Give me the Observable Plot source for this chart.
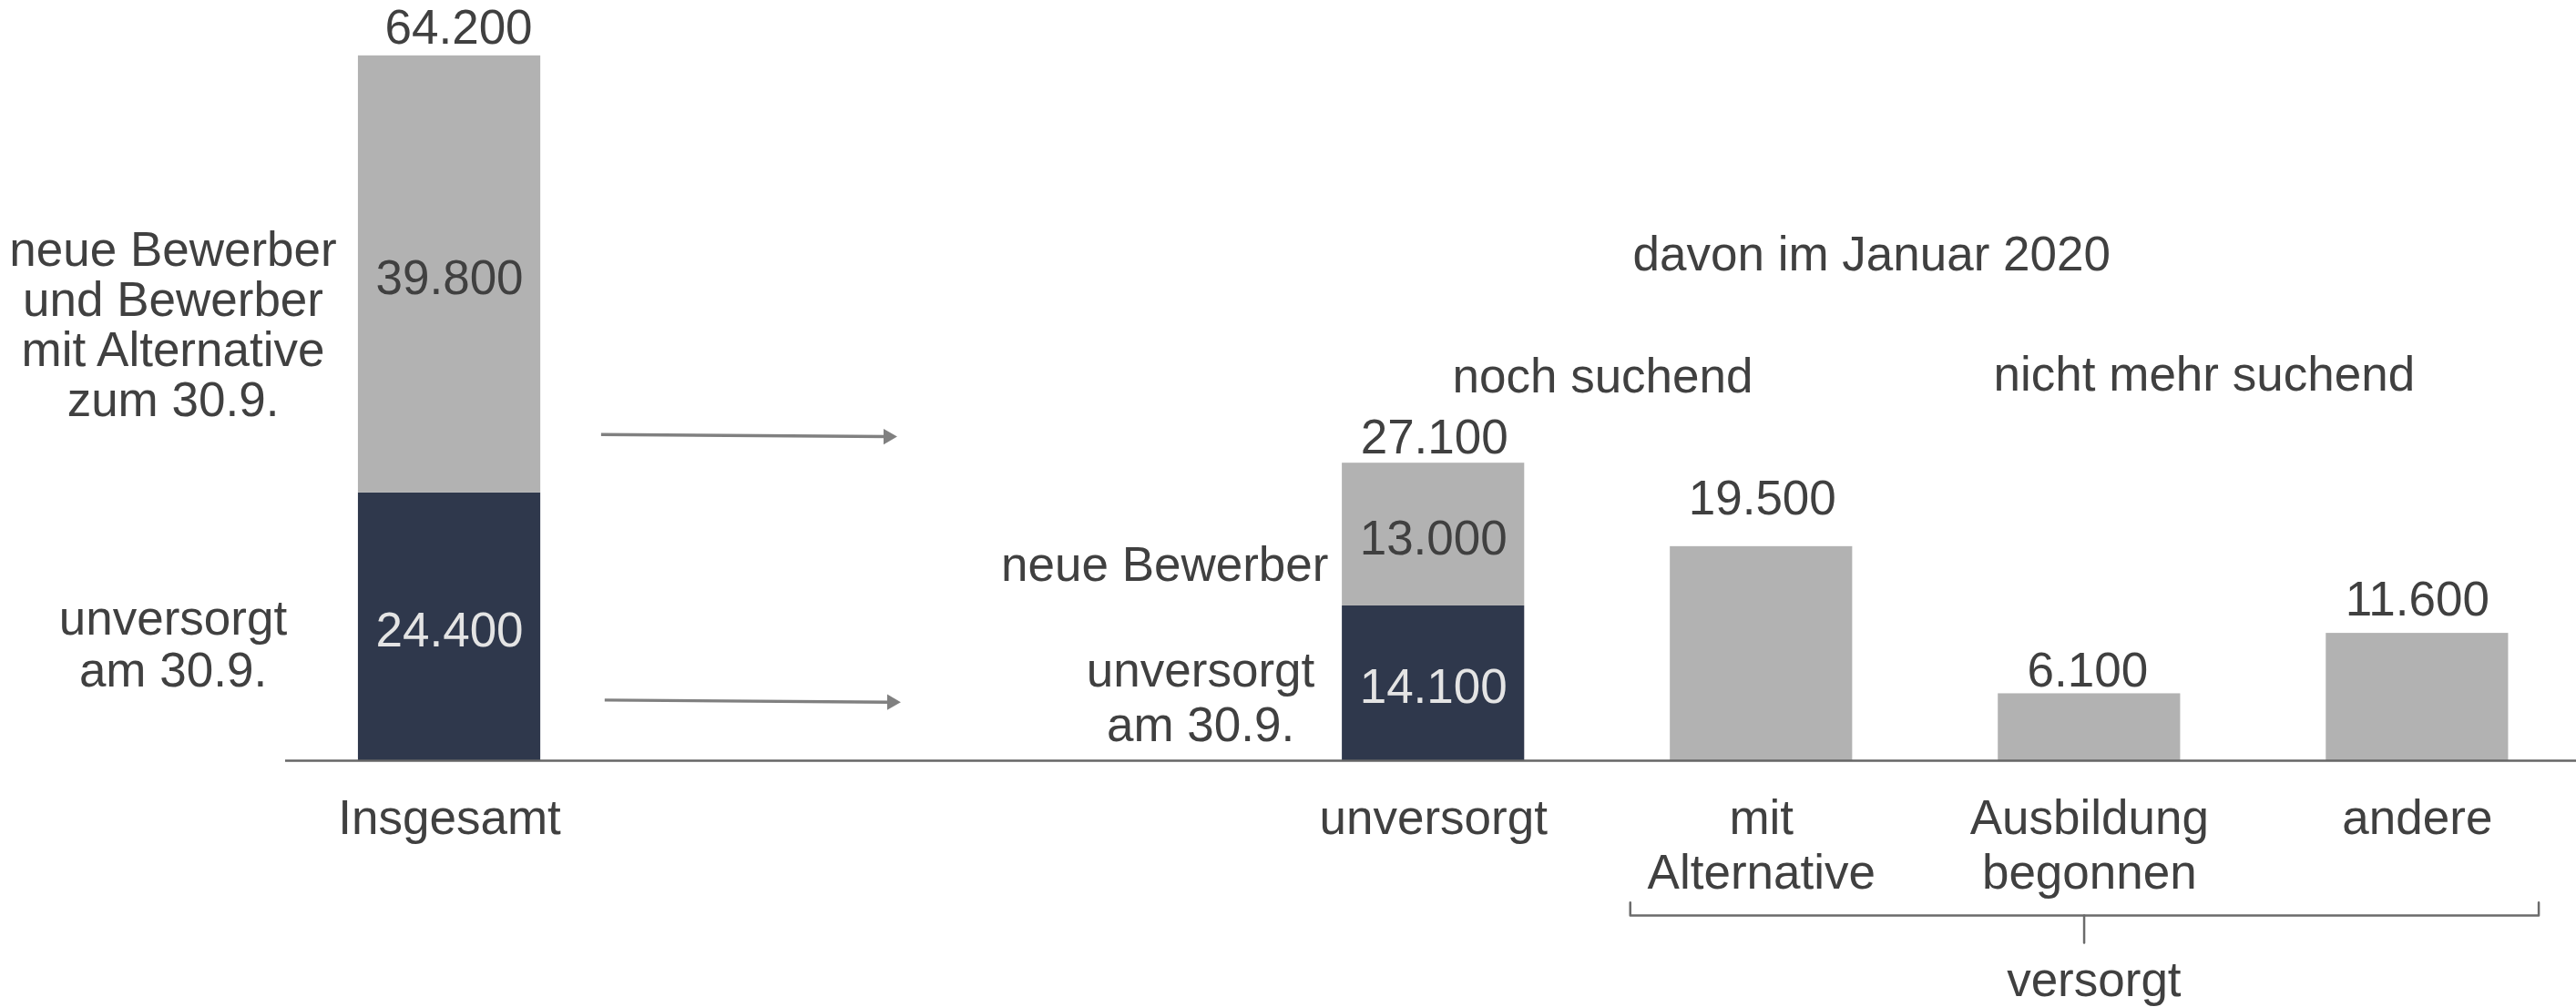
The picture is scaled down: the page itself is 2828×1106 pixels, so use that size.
<!DOCTYPE html>
<html>
<head>
<meta charset="utf-8">
<script src="https://cdn.jsdelivr.net/npm/d3@7"></script>
<script src="https://cdn.jsdelivr.net/npm/@observablehq/plot@0.6"></script>
<style>
  html, body { margin: 0; padding: 0; background: #ffffff; }
  #chart svg { display: block; }
</style>
</head>
<body>
<div id="chart"></div>
<script>
// ---------- data ----------
const categories = ["Insgesamt", "unversorgt", "mit\nAlternative", "Ausbildung\nbegonnen", "andere"];
const slots = [0, 3, 4, 5, 6];                       // ordinal position of each category (slots 1–2 are the gap)
const unversorgtAm309 = [24400, 14100, null, null, null];
const neueBewerber = [39800, 13000, null, null, null];
const totals = [64200, 27100, 19500, 6100, 11600];
const segmentNames = ["unversorgt am 30.9.", "neue Bewerber", "versorgt"];

// annotation texts and their anchors in data space (slot, value)
const noteTexts = [
  "neue Bewerber\nund Bewerber\nmit Alternative\nzum 30.9.",
  "unversorgt\nam 30.9.",
  "neue Bewerber",
  "unversorgt\nam 30.9.",
  "davon im Januar 2020",
  "noch suchend",
  "nicht mehr suchend",
  "versorgt"
];
const noteSlots = [-0.843, -0.843, 2.680, 2.290, 4.336, 3.516, 5.350, 5.014];
const noteValues = [31370, 6800, 16340, 1820, 44615, 33585, 33670, -21400];

// arrows (from → to) in data space
const arrowFrom = [[0.462, 29710], [0.473, 5530]];
const arrowTo = [[1.365, 29520], [1.376, 5330]];

// bracket under "versorgt" categories, in data space
const bracketSlots = [3.600, 3.600, 6.370, 6.370];
const bracketValues = [-12910, -14100, -14100, -12910];
const stemSlots = [4.984, 4.984];
const stemValues = [-14100, -16590];

// ---------- build ----------
const fmt = d3.formatLocale({decimal: ",", thousands: ".", grouping: [3], currency: ["", " €"]}).format(",d");

const barRows = [];
categories.forEach((c, i) => {
  if (unversorgtAm309[i] != null) {
    barRows.push({cat: c, slot: slots[i], segment: segmentNames[0], value: unversorgtAm309[i]});
    barRows.push({cat: c, slot: slots[i], segment: segmentNames[1], value: neueBewerber[i]});
  } else {
    barRows.push({cat: c, slot: slots[i], segment: segmentNames[2], value: totals[i]});
  }
});

const TXT = "#404040";
const FS = 53;
const FONT = "'Liberation Sans', Arial, Helvetica, sans-serif";
const half = 0.278;

// per-label offsets of the totals above the bars
const topDy = [-13, -11, -35, -8, -20];
const topDx = [10, 1, 1, -2, 0];
const topMarks = categories.map((c, i) =>
  Plot.text([totals[i]], {
    x: () => slots[i], y: d => d, text: d => fmt(d),
    lineAnchor: "bottom", dy: topDy[i], dx: topDx[i],
    fontSize: FS, fill: TXT, fontFamily: FONT
  })
);

const noteOpts = [
  {textAnchor: "middle", lineHeight: 1.038},
  {textAnchor: "middle", lineHeight: 1.057},
  {textAnchor: "end", lineHeight: 1.1},
  {textAnchor: "middle", lineHeight: 1.132},
  {textAnchor: "middle", lineHeight: 1.1},
  {textAnchor: "middle", lineHeight: 1.1},
  {textAnchor: "middle", lineHeight: 1.1},
  {textAnchor: "middle", lineHeight: 1.1}
];
const noteMarks = noteTexts.map((t, i) =>
  Plot.text([t], {
    x: () => noteSlots[i], y: () => noteValues[i], text: d => d,
    lineAnchor: "bottom", fontSize: FS, fill: TXT, fontFamily: FONT, ...noteOpts[i]
  })
);

const chart = Plot.plot({
  width: 2828,
  height: 1106,
  marginLeft: 313,
  marginRight: 0,
  marginTop: 15,
  marginBottom: 271,
  style: {fontFamily: FONT, fontSize: FS + "px", background: "#ffffff", overflow: "visible"},
  x: {type: "linear", domain: [-0.5, 6.485], axis: null},
  y: {domain: [0, 68000], axis: null},
  color: {domain: segmentNames, range: ["#2f384c", "#b2b2b2", "#b2b2b2"]},
  marks: [
    Plot.rectY(barRows, {
      x1: d => d.slot - half, x2: d => d.slot + half,
      y: "value", fill: "segment"
    }),
    Plot.text(barRows, Plot.stackY({
      x: "slot", y: "value",
      text: d => d.segment === segmentNames[2] ? null : fmt(d.value),
      fill: d => d.segment === segmentNames[0] ? "#e4e4e4" : TXT,
      lineAnchor: "middle", dy: 5, fontSize: FS, fontFamily: FONT
    })),
    Plot.ruleY([0], {stroke: "#666666", strokeWidth: 2.5}),
    ...topMarks,
    Plot.text(categories, {
      x: (d, i) => slots[i], y: () => 0, text: d => d,
      lineAnchor: "top", lineHeight: 1.132, dy: 38,
      fontSize: FS, fill: TXT, fontFamily: FONT
    }),
    ...noteMarks,
    Plot.link(arrowFrom, {
      x1: d => d[0], y1: d => d[1],
      x2: (d, i) => arrowTo[i][0] - 0.03, y2: (d, i) => arrowTo[i][1],
      stroke: "#808080", strokeWidth: 3.3
    }),
    Plot.dot(arrowTo, {
      x: d => d[0], y: d => d[1], symbol: "triangle", r: 6.4,
      fill: "#808080", stroke: "none", rotate: 90, dx: -10
    }),
    Plot.line(bracketSlots.map((s, i) => [s, bracketValues[i]]), {
      stroke: "#6b6b6b", strokeWidth: 2.5, strokeLinejoin: "round"
    }),
    Plot.line(stemSlots.map((s, i) => [s, stemValues[i]]), {
      stroke: "#6b6b6b", strokeWidth: 2.5
    })
  ]
});

document.getElementById("chart").appendChild(chart);
</script>
</body>
</html>
